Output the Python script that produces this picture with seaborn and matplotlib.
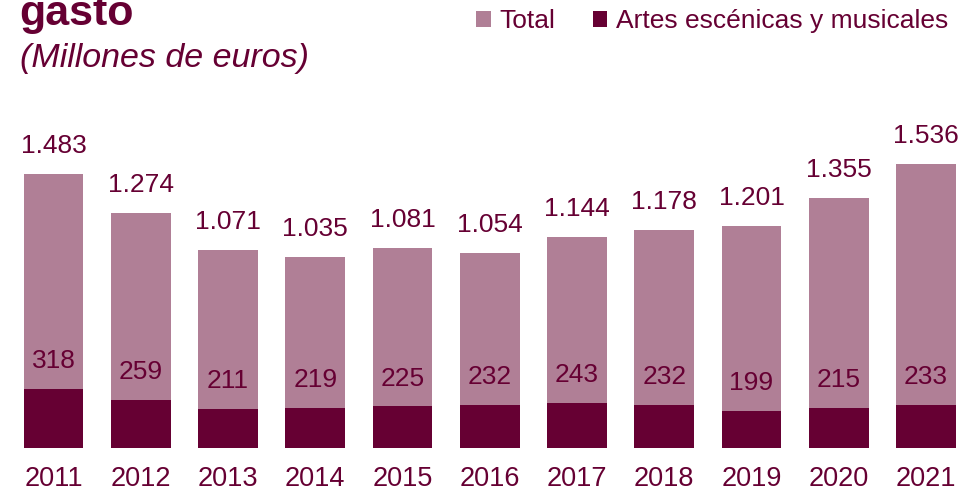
import pandas as pd
import matplotlib.pyplot as plt
import seaborn as sns
from matplotlib.patches import Patch

sns.set_style('white')
plt.rcParams['font.family'] = ['Liberation Sans', 'DejaVu Sans']

# data
years = ['2011', '2012', '2013', '2014', '2015', '2016', '2017', '2018', '2019', '2020', '2021']
total = [1483, 1274, 1071, 1035, 1081, 1054, 1144, 1178, 1201, 1355, 1536]
artes = [318, 259, 211, 219, 225, 232, 243, 232, 199, 215, 233]

light = '#B07F96'
dark = '#660033'

df = pd.DataFrame({'year': years, 'total': total, 'artes': artes})

W, H = 964, 491
fig = plt.figure(figsize=(W / 100, H / 100), dpi=100)
base_px = 448          # bar baseline, pixels from top
scale = 0.1848         # px per million
ax = fig.add_axes([0, (H - base_px) / H, 1, base_px / H])

sns.barplot(data=df, x='year', y='total', color=light, width=0.687,
            saturation=1, linewidth=0, ax=ax, order=years)
sns.barplot(data=df, x='year', y='artes', color=dark, width=0.687,
            saturation=1, linewidth=0, ax=ax, order=years)

pitch = 87.25
first = 53.5
ax.set_xlim(-first / pitch, (W - first) / pitch)
ax.set_ylim(0, base_px / scale)

def fmt(v):
    return f'{v:,}'.replace(',', '.')

for i, (t, a) in enumerate(zip(total, artes)):
    ax.annotate(fmt(t), (i, t), xytext=(0, 15), textcoords='offset points',
                ha='center', va='baseline', fontsize=19, color=dark)
    ax.annotate(fmt(a), (i, a), xytext=(0, 15), textcoords='offset points',
                ha='center', va='baseline', fontsize=19, color=dark)

for s in ax.spines.values():
    s.set_visible(False)
ax.set_yticks([])
ax.set_xlabel('')
ax.set_ylabel('')
ax.tick_params(axis='x', length=0, pad=13, labelsize=19.5, labelcolor=dark)

fig.text(19 / W, 1 - 25 / H, 'gasto', fontsize=31, fontweight='bold',
         color=dark, va='baseline', ha='left')
fig.text(20 / W, 1 - 67 / H, '(Millones de euros)', fontsize=24.5,
         fontstyle='italic', color=dark, va='baseline', ha='left')

handles = [Patch(facecolor=light, edgecolor='none', label='Total'),
           Patch(facecolor=dark, edgecolor='none', label='Artes escénicas y musicales')]
leg = fig.legend(handles=handles, ncol=2, frameon=False, fontsize=19,
                 loc='center right', bbox_to_anchor=(948 / W, 1 - 21 / H),
                 handlelength=0.56, handleheight=0.56, handletextpad=0.32,
                 columnspacing=1.4, borderpad=0, borderaxespad=0)
for txt in leg.get_texts():
    txt.set_color(dark)

plt.savefig('out.png', dpi=100)
